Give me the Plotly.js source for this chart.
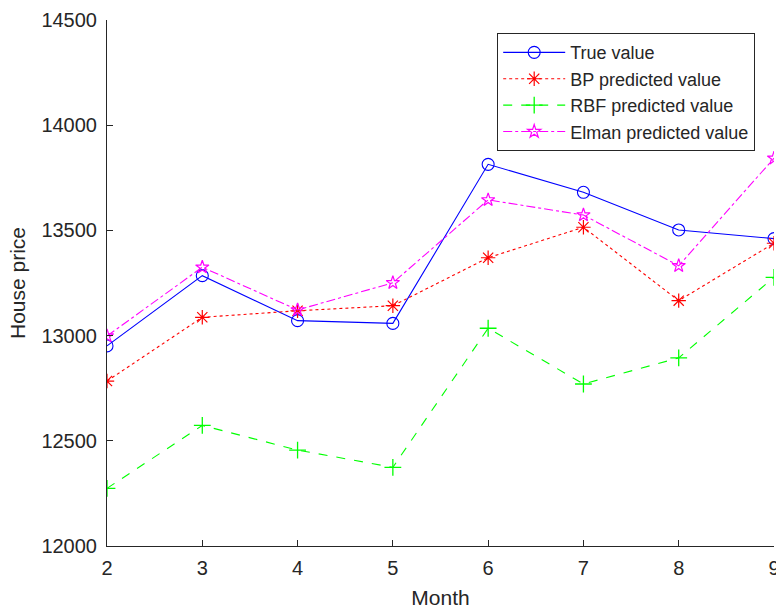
<!DOCTYPE html>
<html>
<head>
<meta charset="utf-8">
<script src="https://cdn.plot.ly/plotly-3.0.1.min.js"></script>
<style>html,body{margin:0;padding:0;background:#fff;}#chart{width:776px;height:610px;}</style>
</head>
<body>
<div id="chart"></div>
<script>
var months = [2, 3, 4, 5, 6, 7, 8, 9];
var trueValue = [12951, 13285, 13071, 13058, 13814, 13681, 13502, 13461];
var bpValue = [12784, 13087, 13118, 13142, 13370, 13515, 13166, 13439];
var rbfValue = [12274, 12573, 12456, 12374, 13035, 12770, 12894, 13277];
var elmanValue = [12998, 13325, 13122, 13251, 13645, 13573, 13332, 13843];
var seriesNames = ['True value', 'BP predicted value', 'RBF predicted value', 'Elman predicted value'];
var yTicks = [12000, 12500, 13000, 13500, 14000, 14500];
var xTicks = [2, 3, 4, 5, 6, 7, 8, 9];

var axisColor = '#262626';
var traces = [
  {x: months, y: trueValue, name: seriesNames[0], mode: 'lines+markers', type: 'scatter',
   line: {color: '#0000ff', width: 1.1, dash: 'solid'},
   marker: {symbol: 'circle-open', size: 12, color: '#0000ff', line: {width: 1.1}}},
  {x: months, y: bpValue, name: seriesNames[1], mode: 'lines+markers', type: 'scatter',
   line: {color: '#ff0000', width: 1.1, dash: 'dot'},
   marker: {symbol: 'asterisk-open', size: 12, color: '#ff0000', line: {width: 1.2, color: '#ff0000'}}},
  {x: months, y: rbfValue, name: seriesNames[2], mode: 'lines+markers', type: 'scatter',
   line: {color: '#00ff00', width: 1.1, dash: 'dash'},
   marker: {symbol: 'cross-thin-open', size: 12, color: '#00ff00', line: {width: 1.3, color: '#00ff00'}}},
  {x: months, y: elmanValue, name: seriesNames[3], mode: 'lines+markers', type: 'scatter',
   line: {color: '#ff00ff', width: 1.1, dash: 'dashdot'},
   marker: {symbol: 'star-open', size: 10, color: '#ff00ff', line: {width: 1.2}}}
];

var layout = {
  width: 776, height: 610,
  margin: {l: 107, r: 2, t: 20, b: 64, pad: 0},
  paper_bgcolor: '#ffffff', plot_bgcolor: '#ffffff',
  font: {family: '"Liberation Sans", Arial, sans-serif', color: axisColor, size: 20},
  showlegend: true,
  legend: {
    x: 0.585, y: 0.975, xanchor: 'left', yanchor: 'top',
    bgcolor: '#ffffff', bordercolor: '#262626', borderwidth: 1,
    font: {size: 18, color: '#262626'}, itemwidth: 62
  },
  xaxis: {
    range: [2, 9], tickvals: xTicks, ticktext: xTicks.map(String),
    showgrid: false, zeroline: false, showline: true, linecolor: axisColor, linewidth: 1,
    ticks: 'inside', ticklen: 6, tickcolor: axisColor, tickfont: {size: 20},
    ticklabelstandoff: 4, ticklabeloverflow: 'allow',
    title: {text: 'Month', font: {size: 21}, standoff: 12}, mirror: false
  },
  yaxis: {
    range: [12000, 14500], tickvals: yTicks, ticktext: yTicks.map(String),
    showgrid: false, zeroline: false, showline: true, linecolor: axisColor, linewidth: 1,
    ticks: 'inside', ticklen: 6, tickcolor: axisColor, tickfont: {size: 20},
    ticklabelstandoff: 5, ticklabeloverflow: 'allow',
    title: {text: 'House price', font: {size: 21}, standoff: 10}, mirror: false
  }
};

Plotly.newPlot('chart', traces, layout, {displayModeBar: false, staticPlot: true});
</script>
</body>
</html>
